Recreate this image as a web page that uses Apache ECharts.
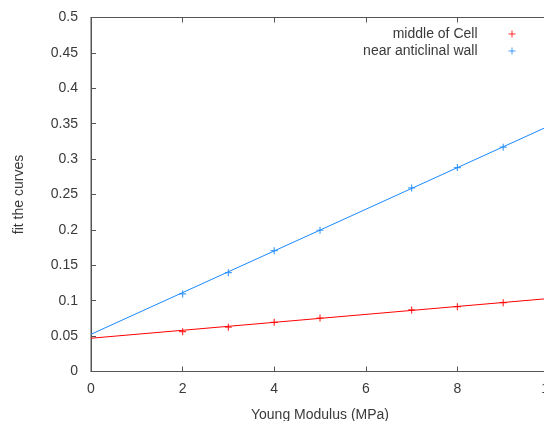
<!DOCTYPE html>
<html>
<head>
<meta charset="utf-8">
<script src="https://cdn.jsdelivr.net/npm/echarts@6/dist/echarts.min.js"></script>
<style>html,body{margin:0;padding:0;background:#fff}#c{width:544px;height:421px}</style>
</head>
<body>
<div id="c"></div>
<script>
// Data
var xPoints = [2, 3, 4, 5, 7, 8, 9];
var middleOfCell = [0.0562, 0.0625, 0.0695, 0.0756, 0.0869, 0.0916, 0.0972];
var nearAnticlinalWall = [0.1095, 0.1396, 0.1707, 0.1995, 0.2593, 0.2880, 0.3168];
var fitX = [0, 10];
var middleFit = [0.047, 0.1031];
var nearFit = [0.0526, 0.3468];
var seriesNames = ['middle of Cell', 'near anticlinal wall'];
var xTicks = [0, 2, 4, 6, 8, 10];
var yTicks = [0, 0.05, 0.1, 0.15, 0.2, 0.25, 0.3, 0.35, 0.4, 0.45, 0.5];

function pairs(xs, ys) { return xs.map(function (x, i) { return [x, ys[i]]; }); }

var RED = '#ff0000', BLUE = '#1a88ff';
var FONT = 'Liberation Sans';
var TXT = '#3a3a3a';
var AX = '#555';
var plus = 'path://M0,4L8,4M4,0L4,8';

var chart = echarts.init(document.getElementById('c'), null, {renderer: 'canvas'});
chart.setOption({
  animation: false,
  textStyle: {fontFamily: FONT},
  grid: {left: 91, right: -5, top: 17.5, bottom: 49.5, show: true, borderColor: AX, borderWidth: 1,
         backgroundColor: 'transparent', containLabel: false, outerBoundsMode: 'none'},
  legend: [
    {data: [seriesNames[0]], right: 21, top: 22, orient: 'vertical', align: 'right', icon: plus, itemWidth: 7, itemHeight: 7, itemGap: 0,
     textStyle: {fontFamily: FONT, fontSize: 14, color: TXT, padding: [0, 26, 0, 0]},
     itemStyle: {color: 'none', borderColor: RED, borderWidth: 1}},
    {data: [seriesNames[1]], right: 21, top: 39, orient: 'vertical', align: 'right', icon: plus, itemWidth: 7, itemHeight: 7, itemGap: 0,
     textStyle: {fontFamily: FONT, fontSize: 14, color: TXT, padding: [0, 26, 0, 0]},
     itemStyle: {color: 'none', borderColor: BLUE, borderWidth: 1}}
  ],
  xAxis: [{
    type: 'value', min: xTicks[0], max: xTicks[xTicks.length - 1], interval: 2,
    name: 'Young Modulus (MPa)', nameLocation: 'middle', nameGap: 37,
    nameTextStyle: {fontFamily: FONT, fontSize: 14, color: TXT},
    axisLine: {show: true, lineStyle: {color: AX}},
    axisTick: {show: true, inside: true, length: 5, lineStyle: {color: AX}},
    axisLabel: {fontFamily: FONT, fontSize: 14, color: TXT, margin: 11},
    splitLine: {show: false}
  }, {
    type: 'value', position: 'top', min: xTicks[0], max: xTicks[xTicks.length - 1], interval: 2,
    axisLine: {show: true, lineStyle: {color: AX}},
    axisTick: {show: true, inside: true, length: 5, lineStyle: {color: AX}},
    axisLabel: {show: false}, splitLine: {show: false}
  }],
  yAxis: {
    type: 'value', min: yTicks[0], max: yTicks[yTicks.length - 1], interval: 0.05,
    name: 'fit the curves', nameLocation: 'middle', nameGap: 65, nameRotate: 90,
    nameTextStyle: {fontFamily: FONT, fontSize: 14, color: TXT},
    axisLine: {show: true, lineStyle: {color: AX}},
    axisTick: {show: true, inside: true, length: 5, lineStyle: {color: AX}},
    axisLabel: {fontFamily: FONT, fontSize: 14, color: TXT, margin: 13,
      formatter: function (v) { return String(+v.toFixed(2)); }},
    splitLine: {show: false}
  },
  series: [
    {name: 'fit1', type: 'line', data: pairs(fitX, middleFit), showSymbol: false, silent: true,
     lineStyle: {color: RED, width: 1}, z: 2},
    {name: 'fit2', type: 'line', data: pairs(fitX, nearFit), showSymbol: false, silent: true,
     lineStyle: {color: BLUE, width: 1}, z: 2},
    {name: seriesNames[0], type: 'scatter', data: pairs(xPoints, middleOfCell), symbol: plus, symbolSize: 7,
     itemStyle: {color: 'none', borderColor: RED, borderWidth: 1.2}, z: 3},
    {name: seriesNames[1], type: 'scatter', data: pairs(xPoints, nearAnticlinalWall), symbol: plus, symbolSize: 7,
     itemStyle: {color: 'none', borderColor: BLUE, borderWidth: 1.2}, z: 3}
  ]
});
</script>
</body>
</html>
